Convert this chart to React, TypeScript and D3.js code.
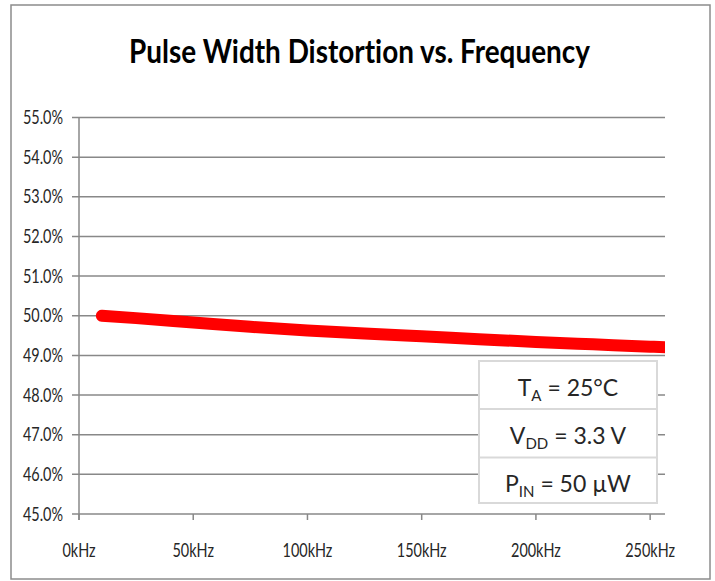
import React from "react";
import * as d3 from "d3";

const freqKHz = [10, 25, 50, 75, 100, 125, 150, 175, 200, 225, 250, 260];
const pwdPct = [50.0, 49.94, 49.83, 49.72, 49.63, 49.55, 49.48, 49.41, 49.34, 49.28, 49.22, 49.2];
const yTicks = [45, 46, 47, 48, 49, 50, 51, 52, 53, 54, 55];
const xTicks = [0, 50, 100, 150, 200, 250];
const titleText = "Pulse Width Distortion vs. Frequency";
const legendRows = [
  { main: "T", sub: "A", rest: " = 25°C" },
  { main: "V", sub: "DD", rest: " = 3.3 V" },
  { main: "P", sub: "IN", rest: " = 50 µW" },
];

const W = 715;
const H = 581;
const left = 79;
const right = 665;
const top = 117.5;
const bottom = 514;
const font = "Lato, 'Open Sans', sans-serif";
const gridColor = "#888888";
const textColor = "#262626";
const tickScaleX = 0.76;

export default function App() {
  const x = d3.scaleLinear().domain([0, 256.5]).range([left, right]);
  const y = d3.scaleLinear().domain([45, 55]).range([bottom, top]);
  const data = freqKHz.map((f, i) => [f, pwdPct[i]] as [number, number]);
  const line = d3
    .line<[number, number]>()
    .x((d) => x(d[0]))
    .y((d) => y(d[1]))
    .curve(d3.curveMonotoneX);

  const legX0 = 479;
  const legX1 = 657;
  const rowEdges = [361, 409, 457.5, 503];
  const legCx = (legX0 + legX1) / 2;

  return (
    <svg
      width={W}
      height={H}
      style={{ position: "absolute", left: 0, top: 0, background: "#fff" }}
    >
      <defs>
        <clipPath id="plotClip">
          <rect x={left - 20} y={top - 20} width={right - left + 20} height={bottom - top + 40} />
        </clipPath>
      </defs>
      <rect x={11} y={5} width={699} height={574} fill="#fff" stroke="#8c8c8c" strokeWidth={1.5} />
      <text
        x={359.5}
        y={63}
        textAnchor="middle"
        fontFamily={font}
        fontWeight={700}
        fontSize={31.5}
        fill="#000"
        textLength={461}
        lengthAdjust="spacingAndGlyphs"
        style={{ fontVariantLigatures: "none" }}
      >
        {titleText}
      </text>

      {yTicks.map((t) => (
        <g key={t}>
          <line x1={72} x2={right} y1={y(t)} y2={y(t)} stroke={gridColor} strokeWidth={1.5} />
          <text
            transform={`translate(63,${y(t) + 6.5}) scale(${tickScaleX},1)`}
            textAnchor="end"
            fontFamily={font}
            fontSize={19}
            fill={textColor}
          >
            {t.toFixed(1) + "%"}
          </text>
        </g>
      ))}
      <line x1={left} x2={left} y1={top} y2={bottom + 6} stroke={gridColor} strokeWidth={1.5} />
      {xTicks.map((t) => (
        <g key={t}>
          <line x1={x(t)} x2={x(t)} y1={bottom} y2={bottom + 6} stroke={gridColor} strokeWidth={1.5} />
          <text
            transform={`translate(${x(t)},557) scale(${tickScaleX},1)`}
            textAnchor="middle"
            fontFamily={font}
            fontSize={19}
            fill={textColor}
          >
            {t + "kHz"}
          </text>
        </g>
      ))}

      <path
        d={line(data) || ""}
        fill="none"
        stroke="#ff0000"
        strokeWidth={12}
        strokeLinecap="round"
        strokeLinejoin="round"
        clipPath="url(#plotClip)"
      />

      <rect
        x={legX0}
        y={rowEdges[0]}
        width={legX1 - legX0}
        height={rowEdges[3] - rowEdges[0]}
        fill="#fff"
        stroke="#d9d9d9"
        strokeWidth={2}
      />
      {[1, 2].map((i) => (
        <line key={i} x1={legX0} x2={legX1} y1={rowEdges[i]} y2={rowEdges[i]} stroke="#d9d9d9" strokeWidth={2} />
      ))}
      {legendRows.map((r, i) => (
        <text
          key={i}
          x={legCx}
          y={rowEdges[i] + 34.5}
          textAnchor="middle"
          fontFamily={font}
          fontSize={23}
          fill={textColor}
        >
          <tspan>{r.main}</tspan>
          <tspan fontSize={15} dy={5}>
            {r.sub}
          </tspan>
          <tspan dy={-5}>{r.rest}</tspan>
        </text>
      ))}
    </svg>
  );
}
